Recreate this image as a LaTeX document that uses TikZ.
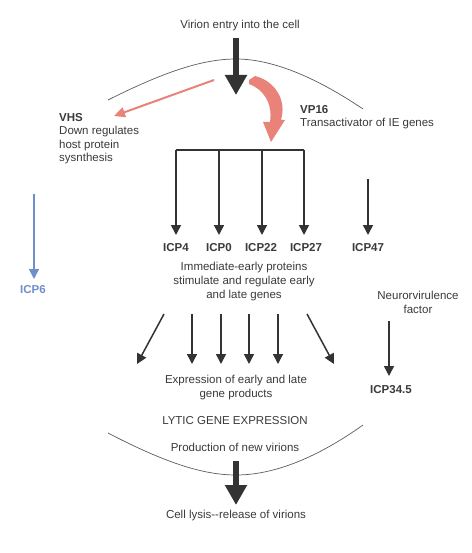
\documentclass[tikz,border=0pt]{standalone}
\usepackage{fontspec}
\setmainfont{Liberation Sans}
\usetikzlibrary{arrows.meta}
\definecolor{ink}{HTML}{333333}
\definecolor{txt}{HTML}{3A3A3A}
\definecolor{pinkc}{HTML}{E9837A}
\definecolor{bluec}{HTML}{6F8FCB}
\begin{document}
\begin{tikzpicture}[x=1bp,y=-1bp,
  every node/.style={font=\fontsize{11.5bp}{13.6bp}\selectfont, text=txt, inner sep=0pt},
  lbl/.style={anchor=base, align=center},
  icp/.style={anchor=base, font=\fontsize{11.5bp}{13.6bp}\selectfont\bfseries},
  arr/.style={draw=ink, line width=1.5bp, -{Triangle[width=10bp,length=10bp]}},
  bigarr/.style={draw=ink, line width=6bp, -{Triangle[width=21bp,length=20bp]}},
  membrane/.style={draw=ink!80, line width=0.7bp}]
\useasboundingbox (0,0) rectangle (472,553);
\fill[white] (0,0) rectangle (472,553);

% membranes
\draw[membrane] (108,100) .. controls (160,74) and (200,59) .. (236,59)
  .. controls (275,59) and (320,80) .. (363,109);
\draw[membrane] (108,433) .. controls (160,460) and (200,475) .. (236,475)
  .. controls (280,475) and (325,452) .. (363,425);

% texts (base anchor = baseline of last line)
\node[lbl] (virion) at (240,29) {Virion entry into the cell};
\node[anchor=base west, align=left] (vhs) at (59,162) {\textbf{VHS}\\Down regulates\\host protein\\sysnthesis};
\node[anchor=base west, align=left] (vp16) at (300,127) {\textbf{VP16}\\Transactivator of IE genes};
\node[icp] (icp4) at (176,251) {ICP4};
\node[icp] (icp0) at (219,251) {ICP0};
\node[icp] (icp22) at (261,251) {ICP22};
\node[icp] (icp27) at (306,251) {ICP27};
\node[icp] (icp47) at (368,251) {ICP47};
\node[icp, text=bluec] (icp6) at (33,293) {ICP6};
\node[lbl] (ie) at (244,298) {Immediate-early proteins\\stimulate and regulate early\\and late genes};
\node[lbl] (neuro) at (418,313) {Neurorvirulence\\factor};
\node[lbl] (expr) at (236,397) {Expression of early and late\\gene products};
\node[icp] (icp345) at (391,393) {ICP34.5};
\node[lbl] (lytic) at (235,424) {LYTIC GENE EXPRESSION};
\node[lbl] (prod) at (235,451) {Production of new virions};
\node[lbl] (cell) at (236,518) {Cell lysis-{}-release of virions};

% coordinates
\coordinate (entryS) at (236,38);
\coordinate (entryE) at (236,95);
\coordinate (vhsS) at (214,80);
\coordinate (vhsE) at (114,116);
\coordinate (b4) at (176,150);
\coordinate (b0) at (219,150);
\coordinate (b22) at (262,150);
\coordinate (b27) at (304,150);
\coordinate (t4) at (176,235);
\coordinate (t0) at (219,235);
\coordinate (t22) at (262,235);
\coordinate (t27) at (304,235);
\coordinate (s47) at (368,179);
\coordinate (t47) at (368,235);
\coordinate (s6) at (34,194);
\coordinate (t6) at (34,279);
\coordinate (s345) at (389,321);
\coordinate (t345) at (389,376);
\coordinate (lysS) at (236,461);
\coordinate (lysE) at (236,505);

% big arrows
\draw[bigarr] (entryS) -- (entryE);
\draw[bigarr] (lysS) -- (lysE);

% VHS arrow
\draw[draw=pinkc, line width=2bp, -{Triangle[width=10bp,length=11bp]}] (vhsS) -- (vhsE);

% VP16 curved block arrow
\fill[pinkc] (249,80) -- (255,76) .. controls (275,81) and (287,100) .. (281,120)
  -- (285,120) -- (271,142) -- (263,122) -- (270,122)
  .. controls (273,103) and (263,89) .. (249,84) -- cycle;

% tree
\draw[ink, line width=1.5bp] (b4) -- (b27);
\draw[arr] (b4) -- (t4);
\draw[arr] (b0) -- (t0);
\draw[arr] (b22) -- (t22);
\draw[arr] (b27) -- (t27);
\draw[arr] (s47) -- (t47);
\draw[arr, draw=bluec, -{Triangle[width=10bp,length=10bp,fill=bluec]}] (s6) -- (t6);

% lower arrows
\foreach \xs/\xe [count=\i] in {164/137,192/192,221/221,249/249,278/278,307/334}{
  \coordinate (ls\i) at (\xs,314);
  \coordinate (le\i) at (\xe,364);
  \draw[arr] (ls\i) -- (le\i);
}
\draw[arr] (s345) -- (t345);
\end{tikzpicture}
\end{document}
